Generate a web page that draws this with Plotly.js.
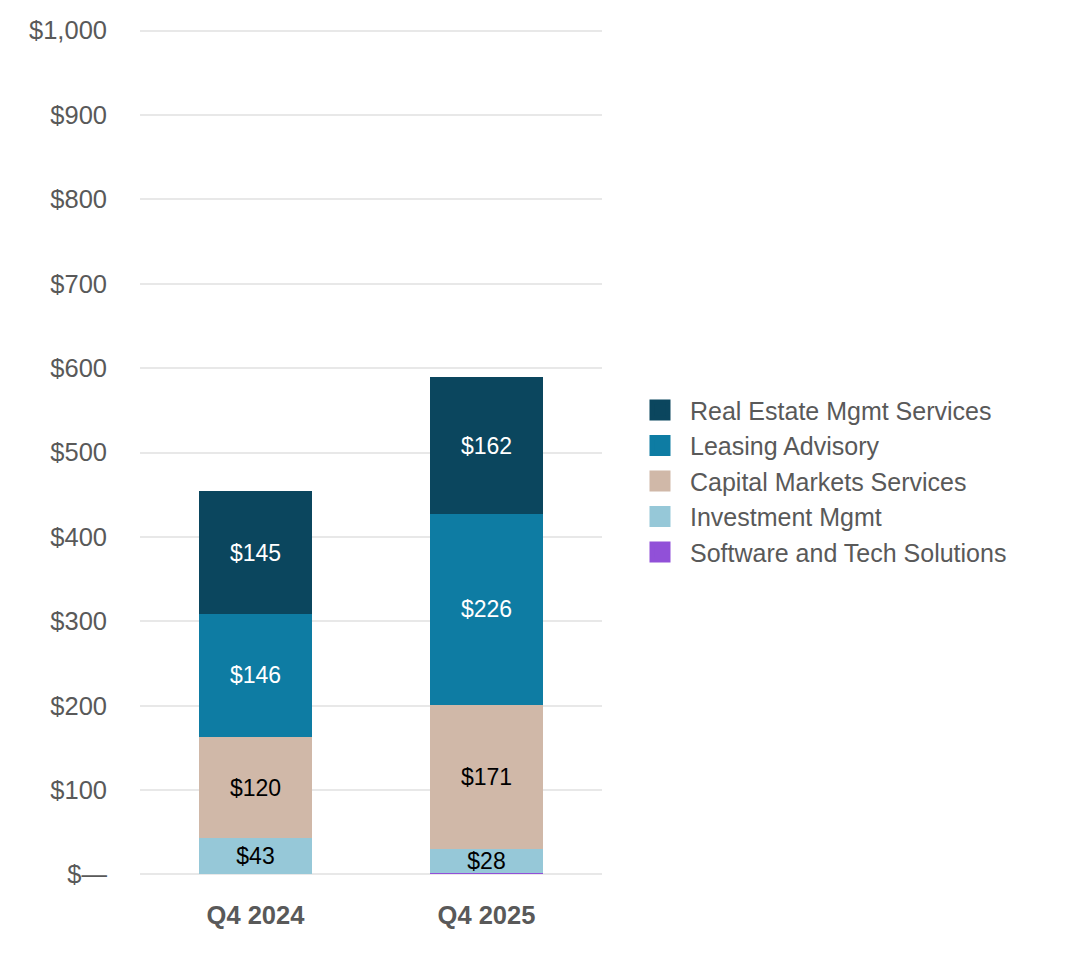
<!DOCTYPE html>
<html>
<head>
<meta charset="utf-8">
<script src="https://cdn.plot.ly/plotly-3.0.1.min.js"></script>
<style>html,body{margin:0;padding:0;background:#fff;}#chart{width:1074px;height:960px;}</style>
</head>
<body>
<div id="chart"></div>
<script>
const categories = ['Q4 2024', 'Q4 2025'];
const software = [0, 2];
const investment = [43, 28];
const capital = [120, 171];
const leasing = [146, 226];
const realEstate = [145, 162];
const tickVals = [0, 100, 200, 300, 400, 500, 600, 700, 800, 900, 1000];
const tickText = ['$—', '$100', '$200', '$300', '$400', '$500', '$600', '$700', '$800', '$900', '$1,000'];

function lbl(arr, show) { return arr.map(v => show ? '$' + v : ''); }

const series = [
  {name: 'Software and Tech Solutions', y: software, color: '#9150d8', tc: '#000', show: false},
  {name: 'Investment Mgmt', y: investment, color: '#96c8d8', tc: '#000', show: true},
  {name: 'Capital Markets Services', y: capital, color: '#d0b8a8', tc: '#000', show: true},
  {name: 'Leasing Advisory', y: leasing, color: '#0e7ca3', tc: '#fff', show: true},
  {name: 'Real Estate Mgmt Services', y: realEstate, color: '#0b465e', tc: '#fff', show: true}
];

const barTraces = series.map(s => ({
  type: 'bar', name: s.name, x: categories, y: s.y,
  marker: {color: s.color},
  text: lbl(s.y, s.show),
  textposition: 'inside', insidetextanchor: 'middle', textangle: 0,
  textfont: {color: s.tc, size: 23, family: 'Arial, Liberation Sans, sans-serif'},
  hoverinfo: 'skip', showlegend: false
}));

// legend-only entries with larger square swatches
const legendTraces = series.map(s => ({
  type: 'scatter', mode: 'markers', name: s.name, x: [null], y: [null],
  marker: {symbol: 'square', size: 16, color: s.color, line: {color: s.color, width: 5}},
  hoverinfo: 'skip', showlegend: true
}));

const layout = {
  width: 1074, height: 960,
  margin: {l: 140, r: 472, t: 27.5, b: 82.5},
  barmode: 'stack', bargap: 0.515,
  paper_bgcolor: '#fff', plot_bgcolor: '#fff',
  font: {family: 'Arial, Liberation Sans, sans-serif', color: '#595959'},
  uniformtext: {minsize: 23, mode: 'show'},
  xaxis: {
    tickfont: {size: 25.5, color: '#595959', weight: 'bold'},
    showgrid: false, zeroline: false, showline: false, ticks: '',
    ticklabelstandoff: 20
  },
  yaxis: {
    range: [-3, 1003], tickvals: tickVals, ticktext: tickText,
    tickfont: {size: 25.5, color: '#595959'},
    gridcolor: '#e8e8e8', gridwidth: 2, zeroline: false, showline: false,
    ticks: '', ticklabelstandoff: 32
  },
  legend: {
    x: 1.0606, xanchor: 'left', y: 0.577, yanchor: 'top',
    traceorder: 'reversed', itemsizing: 'trace',
    font: {size: 25, color: '#595959'},
    itemwidth: 50, tracegroupgap: 0
  },
  showlegend: true
};

Plotly.newPlot('chart', barTraces.concat(legendTraces), layout, {displayModeBar: false, staticPlot: true});
</script>
</body>
</html>
